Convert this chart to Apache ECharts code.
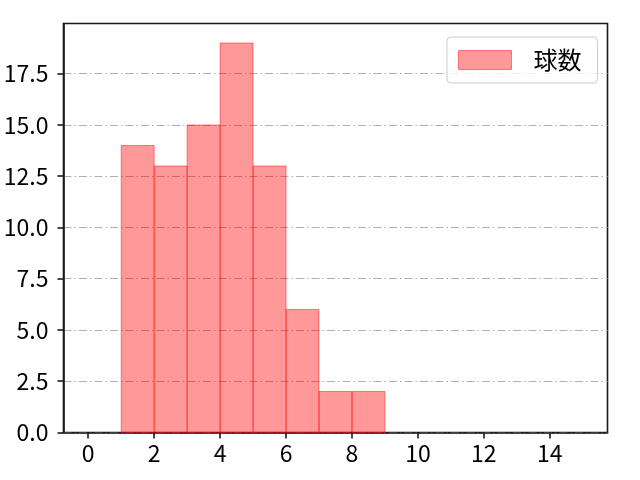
<!DOCTYPE html>
<html><head><meta charset="utf-8">
<script src="https://cdn.jsdelivr.net/npm/echarts@6/dist/echarts.min.js"></script>
<style>html,body{margin:0;padding:0;background:#fff}#c{width:640px;height:480px}</style>
</head><body><div id="c"></div>
<script>
const seriesName = '球数';
const binStarts = [1, 2, 3, 4, 5, 6, 7, 8];
const binWidth = 1;
const counts = [14, 13, 15, 19, 13, 6, 2, 2];
const xTicks = [0, 2, 4, 6, 8, 10, 12, 14];
const yTicks = [0, 2.5, 5, 7.5, 10, 12.5, 15, 17.5];

const FONT = 'Noto Sans CJK JP';
const fill = 'rgba(255,0,0,0.4)';
const edge = 'rgba(255,0,0,0.45)';
const data = binStarts.map((s, i) => [s, s + binWidth, counts[i]]);

const chart = echarts.init(document.getElementById('c'), null, {renderer: 'canvas'});
chart.setOption({
  animation: false,
  backgroundColor: '#fff',
  grid: {left: 63.5, right: 32.5, top: 23.5, bottom: 47.5, show: true, borderColor: '#1a1a1a', borderWidth: 1.6, backgroundColor: 'transparent'},
  legend: {
    left: 447, top: 37, orient: 'vertical',
    padding: [11, 16, 11, 11], itemWidth: 53, itemHeight: 19, itemGap: 0,
    borderColor: '#cccccc', borderWidth: 1, borderRadius: 4, backgroundColor: 'rgba(255,255,255,0.8)',
    textStyle: {fontFamily: FONT, fontSize: 24, color: '#000', padding: [0, 0, 0, 17]},
    data: [{name: seriesName, icon: 'rect', itemStyle: {color: fill, borderColor: edge, borderWidth: 1}}]
  },
  xAxis: {
    type: 'value', min: -0.75, max: 15.75,
    axisLine: {show: true, onZero: false, lineStyle: {color: '#1a1a1a', width: 1.6}},
    axisTick: {show: true, length: 6, customValues: xTicks, lineStyle: {color: '#1a1a1a', width: 1.6}},
    axisLabel: {customValues: xTicks, fontFamily: FONT, fontSize: 23, color: '#000', margin: 9},
    splitLine: {show: false}
  },
  yAxis: {
    type: 'value', min: 0, max: 19.95,
    axisLine: {show: true, onZero: false, lineStyle: {color: '#1a1a1a', width: 1.6}},
    axisTick: {show: true, length: 6, customValues: yTicks, lineStyle: {color: '#1a1a1a', width: 1.6}},
    axisLabel: {customValues: yTicks, fontFamily: FONT, fontSize: 23, color: '#000', margin: 15,
      formatter: v => v.toFixed(1)},
    splitLine: {show: true, lineStyle: {color: '#b0b0b0', width: 1.1, type: [8, 3, 1.5, 3]}}
  },
  series: [{
    name: seriesName, type: 'custom',
    itemStyle: {color: fill, borderColor: edge},
    encode: {x: [0, 1], y: 2},
    renderItem: function (params, api) {
      const p0 = api.coord([api.value(0), api.value(2)]);
      const p1 = api.coord([api.value(1), 0]);
      return {
        type: 'rect',
        shape: {x: p0[0], y: p0[1], width: p1[0] - p0[0], height: p1[1] - p0[1]},
        style: {fill: fill, stroke: edge, lineWidth: 1}
      };
    },
    data: data
  }]
});
</script></body></html>
